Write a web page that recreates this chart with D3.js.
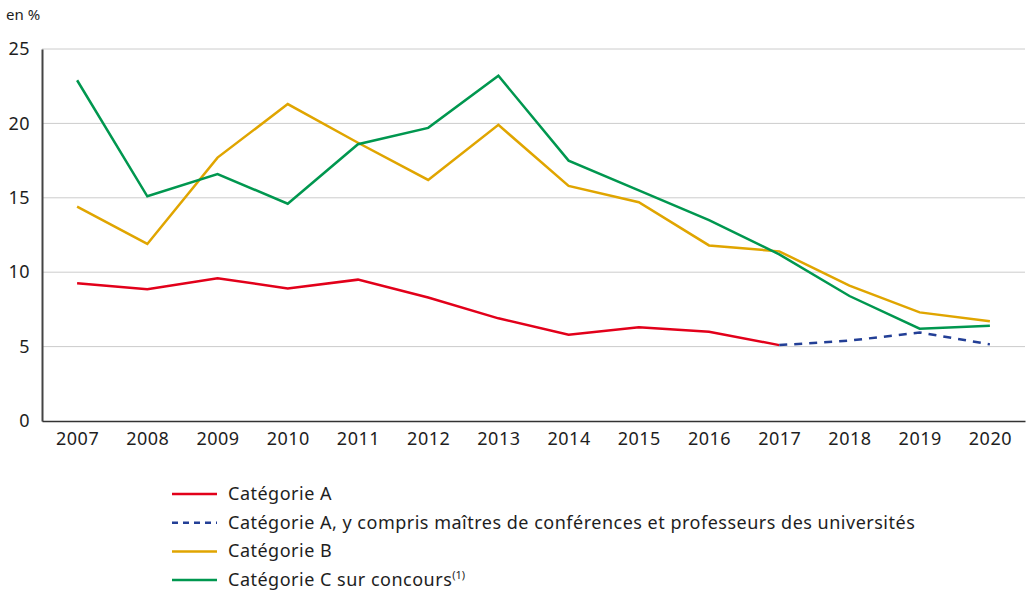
<!DOCTYPE html>
<html>
<head>
<meta charset="utf-8">
<script src="https://cdn.jsdelivr.net/npm/d3@7"></script>
<style>
  body { margin: 0; background: #fff; }
  text { font-family: "Noto Sans", sans-serif; fill: #1e1e1e; letter-spacing: 0.5px; }
</style>
</head>
<body>
<script>
// Data
var years = [2007, 2008, 2009, 2010, 2011, 2012, 2013, 2014, 2015, 2016, 2017, 2018, 2019, 2020];
var catA = [9.25, 8.85, 9.6, 8.9, 9.5, 8.3, 6.9, 5.8, 6.3, 6.0, 5.1, null, null, null];
var catAUniv = [null, null, null, null, null, null, null, null, null, null, 5.1, 5.4, 5.95, 5.15];
var catB = [14.4, 11.9, 17.7, 21.3, 18.7, 16.2, 19.9, 15.8, 14.7, 11.8, 11.4, 9.1, 7.3, 6.7];
var catC = [22.9, 15.1, 16.6, 14.6, 18.6, 19.7, 23.2, 17.5, 15.5, 13.5, 11.2, 8.4, 6.2, 6.4];
var yTicks = [0, 5, 10, 15, 20, 25];

var series = [
  { name: "Catégorie A", values: catA, color: "#e2001a", dash: null },
  { name: "Catégorie A, y compris maîtres de conférences et professeurs des universités", values: catAUniv, color: "#233f96", dash: "8,7" },
  { name: "Catégorie B", values: catB, color: "#e0a500", dash: null },
  { name: "Catégorie C sur concours", sup: "(1)", values: catC, color: "#00974f", dash: null }
];

var width = 1029, height = 592;
var svg = d3.select("body").append("svg")
  .attr("width", width)
  .attr("height", height);

var plotLeft = 42, plotRight = 1025, plotTop = 49, plotBottom = 421;

var x = d3.scalePoint().domain(years).range([plotLeft, plotRight]).padding(0.5);
var y = d3.scaleLinear().domain([0, 25]).range([plotBottom, plotTop]);

// gridlines
svg.append("g")
  .selectAll("line")
  .data(yTicks.filter(function(d) { return d > 0; }))
  .enter().append("line")
  .attr("x1", plotLeft).attr("x2", plotRight)
  .attr("y1", function(d) { return y(d); })
  .attr("y2", function(d) { return y(d); })
  .attr("stroke", "#cccccc")
  .attr("stroke-width", 1);

// y axis
var yAxis = svg.append("g")
  .attr("transform", "translate(" + plotLeft + ",0)")
  .call(d3.axisLeft(y).tickValues(yTicks).tickSize(0).tickPadding(12).tickSizeOuter(0));
yAxis.select(".domain").attr("stroke", "#444").attr("stroke-width", 2);
yAxis.selectAll("text").style("font-size", "18px");

// x axis
var xAxis = svg.append("g")
  .attr("transform", "translate(0," + plotBottom + ")")
  .call(d3.axisBottom(x).tickSize(0).tickPadding(11).tickSizeOuter(0));
xAxis.select(".domain").attr("stroke", "#333").attr("stroke-width", 1.5);
xAxis.selectAll("text").style("font-size", "18px");

svg.append("text")
  .attr("x", 6).attr("y", 20)
  .style("font-size", "15px")
  .style("letter-spacing", "0px")
  .text("en %");

// lines
var line = d3.line()
  .defined(function(d) { return d != null; })
  .x(function(d, i) { return x(years[i]); })
  .y(function(d) { return y(d); });

// draw order: B, C, A, A-univ
[2, 3, 0, 1].forEach(function(k) {
  var s = series[k];
  svg.append("path")
    .datum(s.values)
    .attr("fill", "none")
    .attr("stroke", s.color)
    .attr("stroke-width", 2.5)
    .attr("stroke-dasharray", s.dash)
    .attr("d", line);
});

// legend
var legend = svg.append("g");
series.forEach(function(s, i) {
  var ly = 494 + i * 28.7;
  legend.append("line")
    .attr("x1", 172).attr("x2", 217)
    .attr("y1", ly).attr("y2", ly)
    .attr("stroke", s.color)
    .attr("stroke-width", 2.5)
    .attr("stroke-dasharray", s.dash ? "6,5" : null);
  var t = legend.append("text")
    .attr("x", 228).attr("y", ly + 6)
    .style("font-size", "18px")
    .text(s.name);
  if (s.sup) {
    t.append("tspan")
      .attr("dy", -7)
      .style("font-size", "11px")
      .style("letter-spacing", "0px")
      .text(s.sup);
  }
});
</script>
</body>
</html>
